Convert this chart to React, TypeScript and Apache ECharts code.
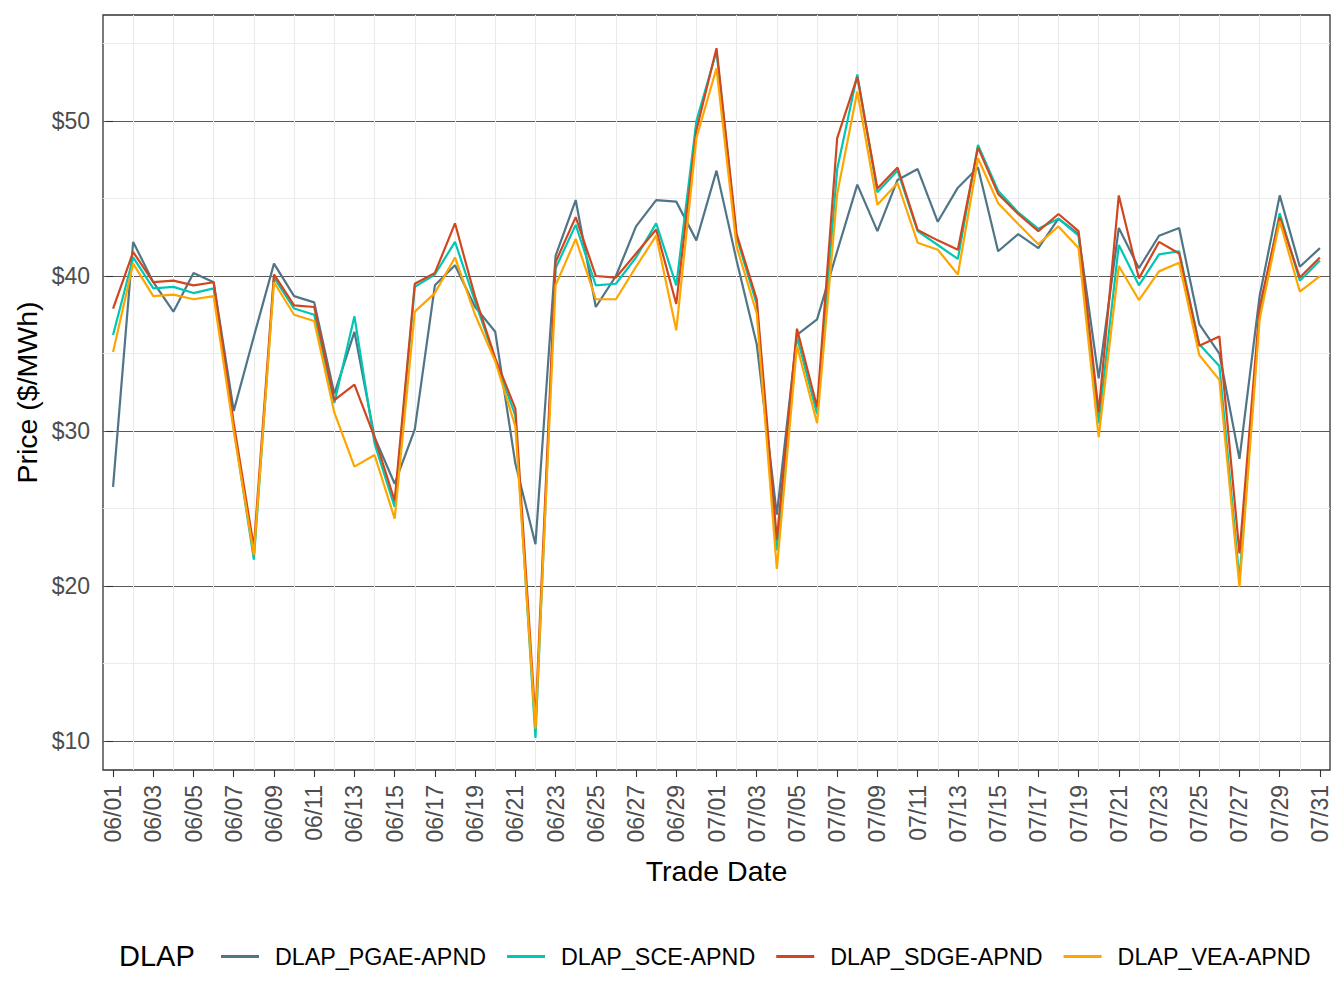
import React, { useEffect, useRef } from "react";
import * as echarts from "echarts";

const dates = [
  "06/01", "06/02", "06/03", "06/04", "06/05", "06/06", "06/07", "06/08", "06/09", "06/10",
  "06/11", "06/12", "06/13", "06/14", "06/15", "06/16", "06/17", "06/18", "06/19", "06/20",
  "06/21", "06/22", "06/23", "06/24", "06/25", "06/26", "06/27", "06/28", "06/29", "06/30",
  "07/01", "07/02", "07/03", "07/04", "07/05", "07/06", "07/07", "07/08", "07/09", "07/10",
  "07/11", "07/12", "07/13", "07/14", "07/15", "07/16", "07/17", "07/18", "07/19", "07/20",
  "07/21", "07/22", "07/23", "07/24", "07/25", "07/26", "07/27", "07/28", "07/29", "07/30",
  "07/31",
];

const pgae = [
  26.4, 42.2, 39.6, 37.7, 40.2, 39.6, 31.3, 36.1, 40.8, 38.7,
  38.3, 32.4, 36.4, 29.6, 26.6, 30.1, 39.4, 40.7, 38.0, 36.4,
  27.9, 22.7, 41.3, 44.9, 38.0, 40.0, 43.2, 44.9, 44.8, 42.3,
  46.8, 41.0, 35.6, 24.6, 36.2, 37.2, 41.6, 45.9, 42.9, 46.2,
  46.9, 43.5, 45.7, 47.0, 41.6, 42.7, 41.8, 43.7, 42.7, 33.4,
  43.1, 40.5, 42.6, 43.1, 36.9, 35.0, 28.2, 38.7, 45.2, 40.6,
  41.8,
];

const sce = [
  36.2, 41.2, 39.2, 39.3, 38.9, 39.2, 30.2, 21.7, 39.9, 37.9,
  37.5, 31.8, 37.4, 29.2, 25.1, 39.3, 40.1, 42.2, 38.35, 34.6,
  31.0, 10.2, 40.5, 43.3, 39.4, 39.5, 41.2, 43.4, 39.4, 50.0,
  54.5, 42.5, 38.2, 22.3, 36.1, 31.1, 46.9, 53.0, 45.4, 46.8,
  42.9, 42.0, 41.1, 48.45, 45.5, 44.1, 43.05, 43.7, 42.6, 30.5,
  42.0, 39.4, 41.4, 41.6, 35.6, 34.2, 20.4, 37.6, 44.05, 39.7,
  41.0,
];

const sdge = [
  37.9, 41.55, 39.6, 39.7, 39.4, 39.6, 30.5, 22.5, 40.1, 38.1,
  38.0, 32.0, 33.0, 29.6, 25.5, 39.5, 40.2, 43.4, 38.65, 34.7,
  31.45, 11.3, 40.9, 43.8, 40.0, 39.9, 41.45, 43.0, 38.2, 49.4,
  54.7, 42.7, 38.5, 23.0, 36.6, 31.55, 48.9, 52.85, 45.65, 47.0,
  42.97, 42.3, 41.7, 48.3, 45.3, 44.0, 42.9, 44.0, 42.9, 31.2,
  45.2, 39.85, 42.2, 41.45, 35.5, 36.1, 22.1, 38.0, 43.8, 39.9,
  41.2,
];

const vea = [
  35.1, 40.8, 38.7, 38.8, 38.5, 38.7, 30.0, 22.0, 39.6, 37.5,
  37.1, 31.2, 27.7, 28.45, 24.35, 37.7, 38.9, 41.2, 37.5, 34.5,
  30.3, 10.8, 39.4, 42.4, 38.5, 38.5, 40.6, 42.6, 36.5, 48.9,
  53.4, 41.9, 37.6, 21.1, 35.5, 30.5, 45.3, 51.9, 44.6, 46.0,
  42.15, 41.7, 40.1, 47.6, 44.7, 43.35, 42.05, 43.2, 41.8, 29.6,
  40.65, 38.45, 40.3, 40.85, 34.9, 33.3, 19.95, 37.2, 43.55, 39.0,
  40.0,
];

const seriesNames = ["DLAP_PGAE-APND", "DLAP_SCE-APND", "DLAP_SDGE-APND", "DLAP_VEA-APND"];
const seriesValues = [pgae, sce, sdge, vea];
const seriesColors = ["#4F7587", "#00C7B3", "#D1461F", "#FFA500"];

const yMajorTicks = [10, 20, 30, 40, 50];
const yMinorTicks = [15, 25, 35, 45, 55];
const xTickIdx = dates.map((_, i) => i).filter((i) => i % 2 === 0);
const xGridIdx = dates.map((_, i) => i).filter((i) => i % 2 === 1);

const FONT = "Liberation Sans, Arial, Helvetica, sans-serif";
const Y_MIN = 8.13;
const Y_MAX = 56.84;
const X_MIN = -0.5;
const X_MAX = 60.5;

export default function App() {
  const ref = useRef<HTMLDivElement>(null);

  useEffect(() => {
    if (!ref.current) return;
    const chart = echarts.init(ref.current, null, { renderer: "svg" });

    const option = {
      animation: false,
      backgroundColor: "#ffffff",
      textStyle: { fontFamily: FONT },
      grid: {
        left: 103,
        right: 14,
        top: 15,
        bottom: 238,
        show: true,
        borderColor: "#333333",
        borderWidth: 1.3,
        backgroundColor: "transparent",
      },
      graphic: [
        {
          type: "text",
          left: 119,
          top: 941,
          style: { text: "DLAP", fontSize: 29, fontFamily: FONT, fill: "#000000" },
        },
      ],
      legend: {
        data: seriesNames,
        left: 216,
        top: 940,
        orient: "horizontal",
        icon: "rect",
        itemWidth: 38,
        itemHeight: 3,
        itemGap: 21,
        selectedMode: false,
        textStyle: {
          fontSize: 23.3,
          color: "#000000",
          fontFamily: FONT,
          padding: [0, 0, 0, 11],
        },
      },
      xAxis: [
        {
          type: "value",
          min: X_MIN,
          max: X_MAX,
          position: "bottom",
          axisLine: { show: false },
          axisTick: {
            show: true,
            length: 7,
            customValues: xTickIdx,
            lineStyle: { color: "#333333", width: 1.1 },
          },
          axisLabel: {
            customValues: xTickIdx,
            formatter: (v: number) => dates[Math.round(v)] ?? "",
            rotate: 90,
            margin: 15,
            color: "#4D4D4D",
            fontSize: 23,
            fontFamily: FONT,
          },
          splitLine: { show: false },
          name: "Trade Date",
          nameLocation: "middle",
          nameGap: 86,
          nameMoveOverlap: false,
          nameTextStyle: { fontSize: 28.5, color: "#000000", fontFamily: FONT },
        },
        {
          type: "value",
          min: X_MIN,
          max: X_MAX,
          position: "top",
          axisLine: { show: false },
          axisTick: { show: false, customValues: xGridIdx },
          axisLabel: { show: false, customValues: xGridIdx },
          splitLine: { show: true, lineStyle: { color: "#EBEBEB", width: 1.1 } },
        },
      ],
      yAxis: [
        {
          type: "value",
          min: Y_MIN,
          max: Y_MAX,
          position: "left",
          axisLine: { show: false },
          axisTick: {
            show: true,
            length: 7,
            customValues: yMajorTicks,
            lineStyle: { color: "#333333", width: 1.1 },
          },
          axisLabel: {
            customValues: yMajorTicks,
            formatter: (v: number) => "$" + v,
            margin: 13,
            color: "#4D4D4D",
            fontSize: 23,
            fontFamily: FONT,
          },
          splitLine: { show: true, lineStyle: { color: "#5A5A5A", width: 1 } },
          name: "Price ($/MWh)",
          nameLocation: "middle",
          nameGap: 62,
          nameMoveOverlap: false,
          nameTextStyle: { fontSize: 28.5, color: "#000000", fontFamily: FONT },
        },
        {
          type: "value",
          min: Y_MIN,
          max: Y_MAX,
          position: "right",
          axisLine: { show: false },
          axisTick: { show: false, customValues: yMinorTicks },
          axisLabel: { show: false, customValues: yMinorTicks },
          splitLine: { show: true, lineStyle: { color: "#EBEBEB", width: 1.1 } },
        },
      ],
      series: seriesNames.map((name, k) => ({
        name,
        type: "line",
        xAxisIndex: 0,
        yAxisIndex: 0,
        data: seriesValues[k].map((v, i) => [i, v]),
        showSymbol: false,
        symbol: "none",
        silent: true,
        z: 3 + k,
        lineStyle: { width: 2.2, color: seriesColors[k] },
        itemStyle: { color: seriesColors[k] },
        emphasis: { disabled: true },
      })),
    };

    chart.setOption(option as any);
    return () => {
      chart.dispose();
    };
  }, []);

  return (
    <div
      ref={ref}
      style={{
        position: "fixed",
        left: 0,
        top: 0,
        width: 1344,
        height: 1008,
        background: "#ffffff",
      }}
    />
  );
}
